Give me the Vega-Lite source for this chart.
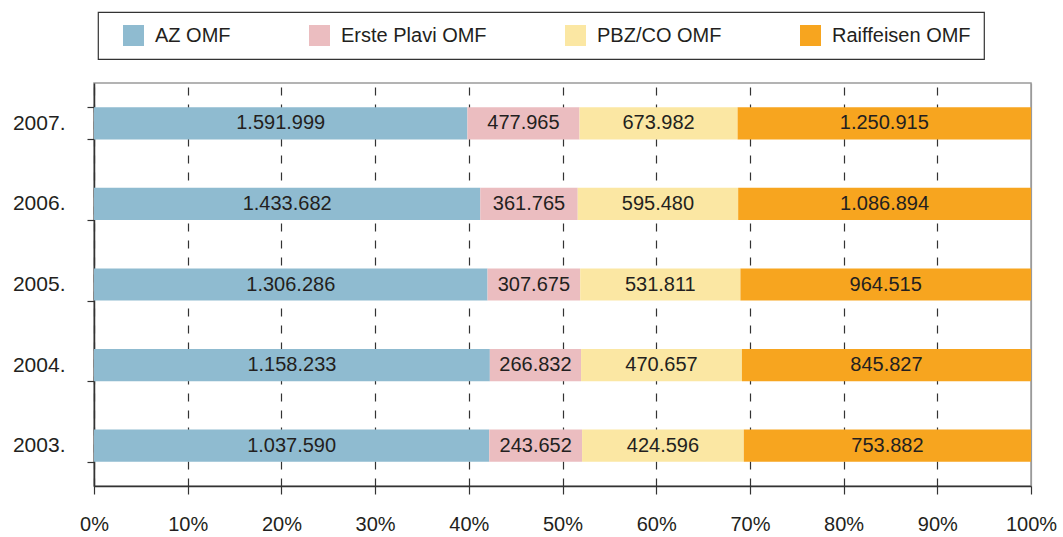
{
  "$schema": "https://vega.github.io/schema/vega-lite/v6.json",
  "width": 937,
  "height": 403,
  "autosize": {"type": "none"},
  "padding": {"left": 94, "top": 83, "right": 32, "bottom": 51},
  "config": {
    "locale": {"number": {"decimal": ",", "thousands": ".", "grouping": [3], "currency": ["", " kn"]}},
    "font": "Liberation Sans, Arial, sans-serif",
    "view": {"stroke": "#9a9a9a", "strokeWidth": 1.5},
    "legend": {"strokeWidth": 1.2}
  },
  "data": {
    "values": [
      {"year": "2007.", "fund": "AZ OMF", "value": 1591999},
      {"year": "2007.", "fund": "Erste Plavi OMF", "value": 477965},
      {"year": "2007.", "fund": "PBZ/CO OMF", "value": 673982},
      {"year": "2007.", "fund": "Raiffeisen OMF", "value": 1250915},
      {"year": "2006.", "fund": "AZ OMF", "value": 1433682},
      {"year": "2006.", "fund": "Erste Plavi OMF", "value": 361765},
      {"year": "2006.", "fund": "PBZ/CO OMF", "value": 595480},
      {"year": "2006.", "fund": "Raiffeisen OMF", "value": 1086894},
      {"year": "2005.", "fund": "AZ OMF", "value": 1306286},
      {"year": "2005.", "fund": "Erste Plavi OMF", "value": 307675},
      {"year": "2005.", "fund": "PBZ/CO OMF", "value": 531811},
      {"year": "2005.", "fund": "Raiffeisen OMF", "value": 964515},
      {"year": "2004.", "fund": "AZ OMF", "value": 1158233},
      {"year": "2004.", "fund": "Erste Plavi OMF", "value": 266832},
      {"year": "2004.", "fund": "PBZ/CO OMF", "value": 470657},
      {"year": "2004.", "fund": "Raiffeisen OMF", "value": 845827},
      {"year": "2003.", "fund": "AZ OMF", "value": 1037590},
      {"year": "2003.", "fund": "Erste Plavi OMF", "value": 243652},
      {"year": "2003.", "fund": "PBZ/CO OMF", "value": 424596},
      {"year": "2003.", "fund": "Raiffeisen OMF", "value": 753882}
    ]
  },
  "transform": [
    {"stack": "value", "groupby": ["year"], "sort": [{"field": "fund", "order": "ascending"}], "offset": "normalize", "as": ["v0", "v1"]},
    {"calculate": "(datum.v0 + datum.v1) / 2", "as": "mid"}
  ],
  "encoding": {
    "y": {
      "field": "year",
      "type": "nominal",
      "sort": "descending",
      "scale": {"paddingInner": 0.6, "paddingOuter": 0.3},
      "axis": {
        "title": null,
        "grid": false,
        "domainColor": "#333333",
        "domainWidth": 1.5,
        "tickBand": "extent",
        "tickSize": 7,
        "tickColor": "#333333",
        "tickWidth": 1.2,
        "labelFontSize": 21,
        "labelColor": "#231f20",
        "labelPadding": 22
      }
    }
  },
  "layer": [
    {
      "mark": {"type": "bar"},
      "encoding": {
        "x": {
          "field": "v0",
          "type": "quantitative",
          "scale": {"domain": [0, 1], "nice": false},
          "axis": {
            "title": null,
            "values": [0, 0.1, 0.2, 0.3, 0.4, 0.5, 0.6, 0.7, 0.8, 0.9, 1],
            "format": "%",
            "domainColor": "#333333",
            "domainWidth": 1.5,
            "tickSize": 8,
            "tickColor": "#333333",
            "tickWidth": 1.2,
            "labelFontSize": 20,
            "labelColor": "#231f20",
            "labelPadding": 20,
            "labelFlush": false,
            "grid": true,
            "gridColor": {"condition": {"test": "datum.value >= 1", "value": "#9a9a9a"}, "value": "#333333"},
            "gridDash": {"condition": {"test": "datum.value >= 1", "value": []}, "value": [8, 9]},
            "gridWidth": 1.2
          }
        },
        "x2": {"field": "v1"},
        "color": {
          "field": "fund",
          "type": "nominal",
          "scale": {
            "domain": ["AZ OMF", "Erste Plavi OMF", "PBZ/CO OMF", "Raiffeisen OMF"],
            "range": ["#8fbbd0", "#ebbdc0", "#fbe7a3", "#f7a51f"]
          },
          "legend": {
            "orient": "none",
            "legendX": 4,
            "legendY": -71,
            "direction": "horizontal",
            "columns": 4,
            "title": null,
            "symbolType": "square",
            "symbolSize": 441,
            "symbolStrokeWidth": 0,
            "symbolOpacity": 1,
            "symbolOffset": 12,
            "labelFontSize": 20,
            "labelLimit": 300,
            "labelColor": "#231f20",
            "labelOffset": 11,
            "columnPadding": 66,
            "padding": 13,
            "strokeColor": "#333333",
            "fillColor": "#ffffff"
          }
        }
      }
    },
    {
      "mark": {"type": "text", "fontSize": 20, "color": "#231f20"},
      "encoding": {
        "x": {"field": "mid", "type": "quantitative"},
        "text": {"field": "value", "type": "quantitative", "format": ",d"}
      }
    }
  ]
}
